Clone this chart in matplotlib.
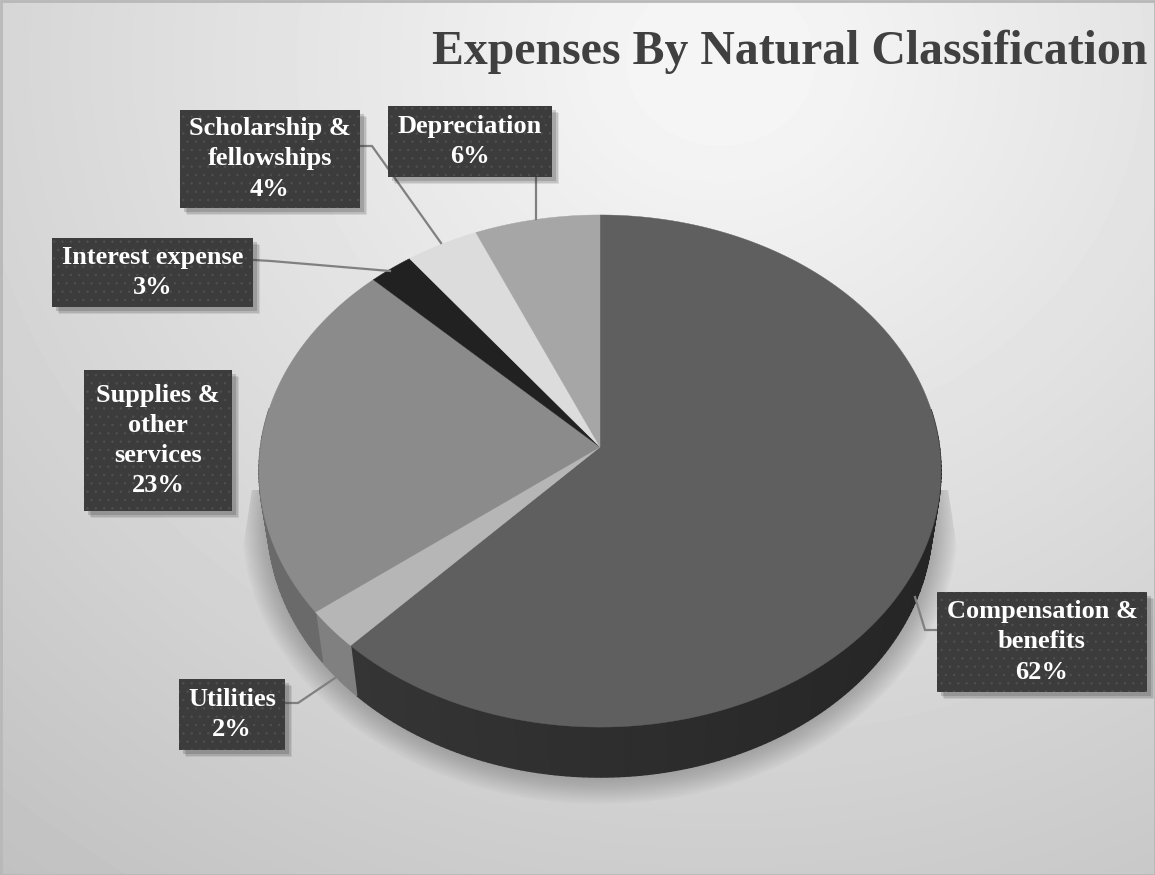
#!/usr/bin/env python
# -*- coding: utf-8 -*-

import numpy as np
import matplotlib
matplotlib.use('Agg')
import matplotlib.pyplot as plt
from matplotlib.patches import Rectangle, Polygon

title = 'Expenses By Natural Classification'

# clockwise from 12 o'clock
categories = ['Compensation &\nbenefits', 'Utilities', 'Supplies &\nother\nservices',
              'Interest expense', 'Scholarship &\nfellowships', 'Depreciation']
values = [62.0, 2.5, 22.9, 2.3, 3.8, 6.5]
percent_labels = ['62%', '2%', '23%', '3%', '4%', '6%']

top_colors = ['#5f5f5f', '#b6b6b6', '#8b8b8b', '#212121', '#dcdcdc', '#a6a6a6']
side_colors = ['#383838', '#808080', '#6a6a6a', '#181818', '#a0a0a0', '#777777']

# x0, y0, x1, y1 of the label boxes
boxes = [(937, 592, 1147, 692), (179, 679, 285, 750), (84, 370, 232, 511),
         (52, 238, 253, 307), (180, 110, 360, 208), (388, 106, 552, 177)]

leaders = [[(915, 597), (925, 630), (937, 630)],
           [(285, 703), (298, 703), (335, 678)],
           [],
           [(254, 260), (271, 261), (390, 271)],
           [(361, 146), (372, 146), (441, 243)],
           [(536, 177), (536, 219)]]

CX, CY = 600, 447
SX, SY, K = 339.5, 253.8, 0.0938
DEPTH = 50
BOTTOM_SCALE = 0.975


def project(theta, dy=0.0, scale=1.0):
    # perspective view of the pie plane, theta clockwise from the top
    u, v = np.sin(theta), np.cos(theta)
    den = 1 + K * v
    return CX + scale * SX * u / den, CY - SY * v / den + dy


fig = plt.figure(figsize=(11.55, 8.75), dpi=100)
ax = fig.add_axes([0, 0, 1, 1])
ax.set_xlim(0, 1155)
ax.set_ylim(875, 0)
ax.axis('off')

# background gradient
yy, xx = np.mgrid[0:875, 0:1155]
dist = np.sqrt(((xx - 720) / 1000.0) ** 2 + ((yy - 60) / 900.0) ** 2)
bg = np.clip(0.975 - 0.19 * dist, 0, 0.96)
ax.imshow(bg, cmap='gray', vmin=0, vmax=1, extent=(0, 1155, 875, 0), aspect='auto', zorder=0)
ax.add_patch(Rectangle((0.5, 0.5), 1154, 874, fill=False, ec='#b8b8b8', lw=2, zorder=1))

# soft shadow under the pie
t = np.linspace(0, 2 * np.pi, 361)
ox, oy = project(t, DEPTH, BOTTOM_SCALE)
clip = Polygon([(252, 490), (948, 490), (965, 600), (965, 830), (235, 830), (235, 600)],
               transform=ax.transData)
for i in range(14):
    s = 1 + i * 0.006
    poly = ax.fill(600 + (ox - 600) * s, 520 + (oy - 520) * (1 + i * 0.008),
                   color='#505050', alpha=0.03, lw=0, zorder=2)[0]
    poly.set_clip_path(clip)

# side wall, then the top face
edges = np.radians(np.concatenate([[0], np.cumsum(values)]) * 3.6)
for i in range(len(values)):
    th = np.linspace(edges[i], edges[i + 1], max(3, int(values[i] * 4)))
    base = np.array(matplotlib.colors.to_rgb(side_colors[i]))
    for a, b in zip(th[:-1], th[1:]):
        mid = (a + b) / 2
        if np.cos(mid) > 0.15:
            continue
        xa, ya = project(np.array([a, b]))
        xb, yb = project(np.array([b, a]), DEPTH, BOTTOM_SCALE)
        # wall gets darker towards the right side
        shade = 1.0 - 0.35 * (np.sin(mid) + 1) / 2 if i == 0 else 1.0
        ax.fill(np.r_[xa, xb], np.r_[ya, yb], color=base * shade, lw=1.0, zorder=3)
    tx = np.linspace(edges[i], edges[i + 1], 200)
    px, py = project(tx)
    ax.fill(np.r_[CX, px], np.r_[CY, py], color=top_colors[i], lw=0.3, zorder=4)

# label boxes
plt.rcParams['hatch.linewidth'] = 0.5
for i in range(len(categories)):
    x0, y0, x1, y1 = boxes[i]
    for off, a in [(7, 0.10), (5.5, 0.14), (4, 0.20)]:
        ax.add_patch(Rectangle((x0 + off, y0 + off), x1 - x0, y1 - y0, fc='#303030',
                               ec='none', alpha=a, zorder=5))
    ax.add_patch(Rectangle((x0, y0), x1 - x0, y1 - y0, fc='#3c3c3c', ec='#505050',
                           hatch='..', lw=0, zorder=6))
    ax.text((x0 + x1) / 2, (y0 + y1) / 2, categories[i] + '\n' + percent_labels[i],
            ha='center', va='center', family='Liberation Serif', weight='bold',
            fontsize=19, color='white', linespacing=1.4, zorder=7)
    if leaders[i]:
        lx, ly = zip(*leaders[i])
        ax.plot(lx, ly, color='#808080', lw=1.6, zorder=4.5, solid_joinstyle='miter')

ax.text(1147, 52, title, ha='right', va='center', family='Liberation Serif', weight='bold',
        fontsize=34.4, color='#404040', zorder=7)

fig.savefig('out.png', dpi=100)
